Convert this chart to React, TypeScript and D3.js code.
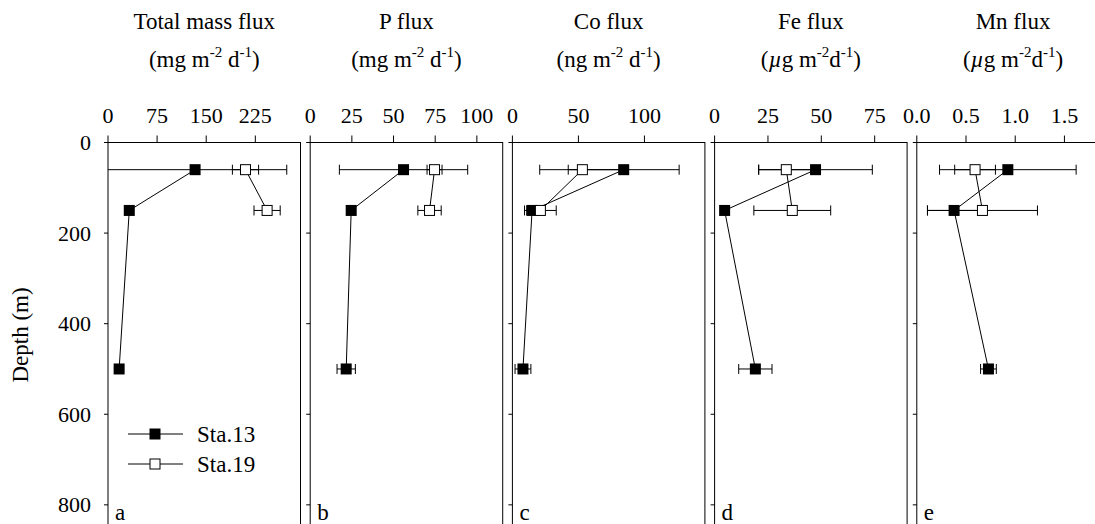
import React from 'react';
import * as d3 from 'd3';

// depths (m) sampled at each station
const depths13 = [60, 150, 500];
const depths19 = [60, 150];

const panelTitles = ['Total mass flux', 'P flux', 'Co flux', 'Fe flux', 'Mn flux'];
const panelUnitPrefix = ['mg', 'mg', 'ng', 'µg', 'µg'];
const panelLetters = ['a', 'b', 'c', 'd', 'e'];
const panelMax = [294, 115.5, 145.8, 90.2, 1.956];
const panelTicks = [
  [0, 75, 150, 225],
  [0, 25, 50, 75, 100],
  [0, 50, 100],
  [0, 25, 50, 75],
  [0, 0.5, 1, 1.5],
];

// Sta.13 values / errors per panel (at depths13)
const sta13Values = [
  [133, 32.5, 17],
  [56, 24.6, 21.6],
  [84.3, 14.9, 8],
  [47.3, 4.7, 19.1],
  [0.925, 0.379, 0.728],
];
const sta13Errors = [
  [140, 0, 0],
  [38.5, 0, 5.5],
  [42, 4, 6],
  [26.6, 0, 7.8],
  [0.694, 0.27, 0.08],
];

// Sta.19 values / errors per panel (at depths19)
const sta19Values = [
  [210, 243],
  [74.6, 71.6],
  [53, 21.2],
  [33.6, 36.4],
  [0.592, 0.667],
];
const sta19Errors = [
  [20, 20],
  [4.5, 7],
  [32.3, 12],
  [13, 18],
  [0.207, 0.559],
];

const depthTicks = [0, 200, 400, 600, 800];
const legendLabels = ['Sta.13', 'Sta.19'];

const FONT = "'Liberation Serif', 'DejaVu Serif', serif";

const W = 1095;
const H = 524;
const panelLeft0 = 108;
const panelStep = 202.2;
const panelWidth = 192.5;
const plotTop = 142.5;
const plotBottom = 527.5;
const markerSize = 11;
const capHalf = 5;

const yScale = d3.scaleLinear().domain([0, 850]).range([plotTop, plotBottom]);

const txt = (size: number): React.CSSProperties => ({ fontFamily: FONT, fontSize: size });

function ErrorBar({ x, y, v, e, max }: { x: d3.ScaleLinear<number, number>; y: number; v: number; e: number; max: number }) {
  if (!e) return null;
  const lo = v - e;
  const hi = v + e;
  const x1 = x(Math.max(0, lo));
  const x2 = x(Math.min(max, hi));
  return (
    <g stroke="black" strokeWidth={1}>
      <line x1={x1} x2={x2} y1={y} y2={y} />
      {lo >= 0 && <line x1={x1} x2={x1} y1={y - capHalf} y2={y + capHalf} />}
      {hi <= max && <line x1={x2} x2={x2} y1={y - capHalf} y2={y + capHalf} />}
    </g>
  );
}

function Panel({ i }: { i: number }) {
  const left = panelLeft0 + i * panelStep;
  const x = d3.scaleLinear().domain([0, panelMax[i]]).range([left, left + panelWidth]);
  const cx = left + panelWidth / 2;
  const fmt = i === 4 ? d3.format('.1f') : d3.format('d');
  const line = d3.line<[number, number]>().x(d => x(d[0])).y(d => yScale(d[1]));
  const pts13: [number, number][] = sta13Values[i].map((v, k) => [v, depths13[k]]);
  const pts19: [number, number][] = sta19Values[i].map((v, k) => [v, depths19[k]]);
  const italicMu = panelUnitPrefix[i] === 'µg';

  return (
    <g>
      {/* titles */}
      <text x={cx} y={29} textAnchor="middle" style={txt(23)}>{panelTitles[i]}</text>
      <text x={cx} y={67} textAnchor="middle" style={txt(23)}>
        {italicMu ? (
          <>
            <tspan>(</tspan>
            <tspan fontStyle="italic">µ</tspan>
            <tspan>g m</tspan>
          </>
        ) : (
          <tspan>({panelUnitPrefix[i]} m</tspan>
        )}
        <tspan style={{ fontSize: 15 }} dy={-10}>-2</tspan>
        <tspan dy={10}>{italicMu ? 'd' : ' d'}</tspan>
        <tspan style={{ fontSize: 15 }} dy={-10}>-1</tspan>
        <tspan dy={10}>)</tspan>
      </text>

      {/* frame */}
      <rect x={left} y={plotTop} width={panelWidth} height={plotBottom - plotTop} fill="none" stroke="black" strokeWidth={1} />

      {/* top axis */}
      {panelTicks[i].map(t => (
        <g key={t}>
          <line x1={x(t)} x2={x(t)} y1={plotTop - 7} y2={plotTop} stroke="black" />
          <text x={x(t)} y={123} textAnchor="middle" style={txt(22)}>{fmt(t)}</text>
        </g>
      ))}

      {/* left ticks */}
      {depthTicks.map(t => (
        <g key={t}>
          <line x1={left - 4} x2={left} y1={yScale(t)} y2={yScale(t)} stroke="black" />
          {i === 0 && (
            <text x={left - 17} y={yScale(t) + 7.5} textAnchor="end" style={txt(22)}>{t}</text>
          )}
        </g>
      ))}

      {/* error bars */}
      {pts13.map((p, k) => (
        <ErrorBar key={'e13' + k} x={x} y={yScale(p[1])} v={p[0]} e={sta13Errors[i][k]} max={panelMax[i]} />
      ))}
      {pts19.map((p, k) => (
        <ErrorBar key={'e19' + k} x={x} y={yScale(p[1])} v={p[0]} e={sta19Errors[i][k]} max={panelMax[i]} />
      ))}

      {/* lines */}
      <path d={line(pts13) || ''} fill="none" stroke="black" strokeWidth={1} />
      <path d={line(pts19) || ''} fill="none" stroke="black" strokeWidth={1} />

      {/* markers */}
      {pts13.map((p, k) => (
        <rect key={'m13' + k} x={x(p[0]) - markerSize / 2} y={yScale(p[1]) - markerSize / 2}
          width={markerSize} height={markerSize} fill="black" />
      ))}
      {pts19.map((p, k) => (
        <rect key={'m19' + k} x={x(p[0]) - (markerSize - 1) / 2} y={yScale(p[1]) - (markerSize - 1) / 2}
          width={markerSize - 1} height={markerSize - 1} fill="white" stroke="black" strokeWidth={1} />
      ))}

      {/* panel letter */}
      <text x={left + 7} y={520} style={txt(23)}>{panelLetters[i]}</text>
    </g>
  );
}

export default function App() {
  const legendY = [434, 464];
  return (
    <svg width={W} height={H} style={{ position: 'absolute', left: 0, top: 0, background: 'white' }} fill="black">
      <rect width={W} height={H} fill="white" />
      {panelTitles.map((_, i) => <Panel key={i} i={i} />)}

      <text transform="translate(28, 335) rotate(-90)" textAnchor="middle" style={txt(23)}>Depth (m)</text>

      {/* legend */}
      {legendLabels.map((lab, k) => (
        <g key={lab}>
          <line x1={128} x2={183} y1={legendY[k]} y2={legendY[k]} stroke="black" />
          {k === 0 ? (
            <rect x={155 - markerSize / 2} y={legendY[k] - markerSize / 2} width={markerSize} height={markerSize} fill="black" />
          ) : (
            <rect x={155 - (markerSize - 1) / 2} y={legendY[k] - (markerSize - 1) / 2} width={markerSize - 1}
              height={markerSize - 1} fill="white" stroke="black" />
          )}
          <text x={197} y={legendY[k] + 7.5} style={txt(23)}>{lab}</text>
        </g>
      ))}
    </svg>
  );
}
